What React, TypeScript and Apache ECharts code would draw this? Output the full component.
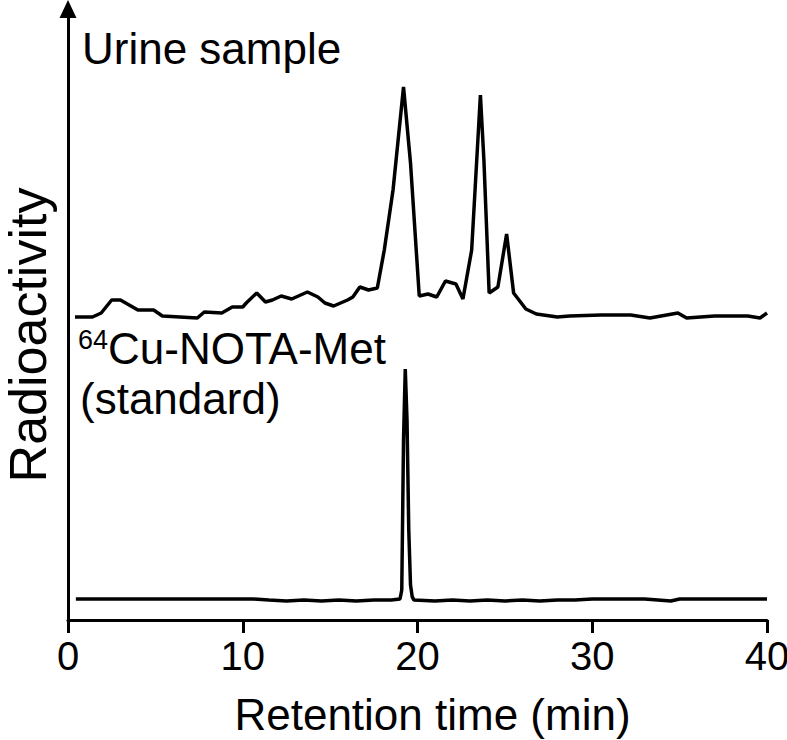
import React, { useEffect, useRef } from "react";
import * as echarts from "echarts";

// Retention time (min) and radioactivity (arbitrary units)
const urineTime = [0.4, 1.4, 1.9, 2.5, 3.0, 3.7, 4.0, 4.9, 5.4, 6.4, 7.4, 7.8, 8.8, 9.4, 10.0, 10.2, 10.8, 11.3, 11.7, 12.2, 12.8, 13.7, 14.3, 14.7, 15.2, 16.0, 16.3, 16.7, 17.2, 17.7, 18.1, 18.6, 19.2, 19.6, 20.1, 20.6, 21.1, 21.6, 22.2, 22.6, 23.1, 23.6, 23.8, 24.1, 24.6, 25.1, 25.5, 26.2, 26.8, 28.0, 28.7, 30.5, 32.2, 33.3, 34.9, 35.4, 37.0, 38.9, 39.6, 40.0];
const urineSignal = [303, 303, 307, 320, 320, 313, 310, 310, 304, 303, 302, 308, 307, 313, 313, 317, 327, 318, 320, 324, 321, 328, 323, 317, 314, 320, 323, 333, 330, 332, 370, 430, 533, 457, 324, 326, 323, 339, 336, 321, 370, 525, 460, 327, 333, 386, 327, 311, 306, 303, 304, 305, 305, 302, 307, 302, 304, 304, 302, 307];

const standardTime = [0.45, 10.6, 11.5, 12.5, 13.5, 14.5, 15.5, 16.5, 17.5, 18.5, 19.0, 19.1, 19.2, 19.3, 19.4, 19.5, 19.6, 19.7, 19.8, 21, 22, 23, 24, 25, 26, 27, 28, 29, 30, 33, 34.5, 35, 40];
const standardSignal = [21, 21, 20, 19, 20, 19, 20, 19, 20, 20, 21, 30, 180, 251, 200, 90, 35, 23, 20, 19, 20, 19, 20, 19, 20, 19, 20, 20, 21, 21, 19, 21, 21];

const xTicks = [0, 10, 20, 30, 40];
const xTitle = "Retention time (min)";
const yTitle = "Radioactivity";
const urineLabel = "Urine sample";
const standardLabelSup = "64";
const standardLabelMain = "Cu-NOTA-Met";
const standardLabelSub = "(standard)";

const FONT = "Liberation Sans, Arial, Helvetica, sans-serif";

export default function App() {
  const ref = useRef<HTMLDivElement>(null);
  useEffect(() => {
    if (!ref.current) return;
    const chart = echarts.init(ref.current, null, { renderer: "svg" });
    const pair = (t: number[], v: number[]) => t.map((x, i) => [x, v[i]]);
    chart.setOption({
      animation: false,
      backgroundColor: "#fff",
      grid: { left: 68, right: 20, top: 9, bottom: 120, containLabel: false, outerBoundsMode: "none" },
      xAxis: {
        type: "value",
        min: xTicks[0],
        max: xTicks[xTicks.length - 1],
        interval: 10,
        name: xTitle,
        nameLocation: "middle",
        nameGap: 72,
        nameTextStyle: { fontFamily: FONT, fontSize: 44, color: "#000", padding: [0, 0, 0, 30] },
        axisLine: { lineStyle: { color: "#000", width: 3 } },
        axisTick: { show: true, length: 13, inside: false, lineStyle: { color: "#000", width: 3 } },
        axisLabel: { margin: 16, fontFamily: FONT, fontSize: 40, color: "#000" },
        splitLine: { show: false },
      },
      yAxis: {
        type: "value",
        min: 0,
        max: 611,
        axisLine: {
          show: true,
          symbol: ["none", "triangle"],
          symbolSize: [17, 18],
          lineStyle: { color: "#000", width: 3 },
        },
        axisTick: { show: false },
        axisLabel: { show: false },
        splitLine: { show: false },
      },
      series: [
        {
          type: "line",
          data: pair(urineTime, urineSignal),
          showSymbol: false,
          lineStyle: { color: "#000", width: 3.5 },
          z: 3,
        },
        {
          type: "line",
          data: pair(standardTime, standardSignal),
          showSymbol: false,
          lineStyle: { color: "#000", width: 3.5 },
          z: 3,
        },
      ],
      graphic: [
        {
          type: "text",
          x: 28,
          y: 335,
          rotation: Math.PI / 2,
          style: { text: yTitle, fontFamily: FONT, fontSize: 52, fill: "#000", align: "center", verticalAlign: "middle" },
        },
        {
          type: "text",
          left: 82,
          top: 26,
          style: { text: urineLabel, fontFamily: FONT, fontSize: 44, fill: "#000" },
        },
        {
          type: "text",
          left: 78,
          top: 326,
          style: {
            text: `{sup|${standardLabelSup}}{main|${standardLabelMain}}`,
            rich: {
              sup: { fontFamily: FONT, fontSize: 27, fill: "#000", verticalAlign: "top", padding: [0, 0, 14, 0] },
              main: { fontFamily: FONT, fontSize: 44, fill: "#000" },
            },
          },
        },
        {
          type: "text",
          left: 80,
          top: 376,
          style: { text: standardLabelSub, fontFamily: FONT, fontSize: 44, fill: "#000" },
        },
      ],
    });
    return () => chart.dispose();
  }, []);
  return <div ref={ref} style={{ width: 787, height: 740, position: "absolute", left: 0, top: 0 }} />;
}
